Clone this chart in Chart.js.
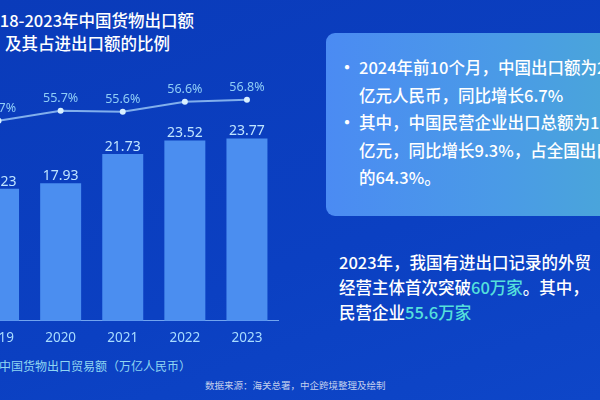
<!DOCTYPE html>
<html lang="zh-CN">
<head>
<meta charset="utf-8">
<script src="https://cdn.jsdelivr.net/npm/chart.js@4.4.1/dist/chart.umd.min.js"></script>
<style>
  html, body { margin: 0; padding: 0; }
  body {
    width: 600px; height: 400px; overflow: hidden; position: relative;
    background: linear-gradient(160deg, #0a3bba 0%, #0b40c2 60%, #0e46c8 100%);
    font-family: 'Noto Sans CJK SC', 'Noto Sans', sans-serif;
    color: #fff;
  }
  .title {
    position: absolute; left: -20px; top: 9px; width: 215px;
    text-align: center; font-size: 16.5px; font-weight: 500; line-height: 23px;
    white-space: nowrap;
  }
  #chartWrap { position: absolute; left: -40px; top: 0; width: 330px; height: 355px; }
  .axis-name {
    position: absolute; left: -1px; top: 357px; font-size: 12px; color: #8fd6f2; white-space: nowrap;
  }
  .source {
    position: absolute; left: 205px; top: 378px; font-size: 9.5px; color: #c3d0ee; white-space: nowrap;
  }
  .box {
    position: absolute; left: 326px; top: 33px; width: 300px; height: 183px;
    border-radius: 9px;
    background: linear-gradient(90deg, #4b8bf3 0%, #4a9be6 60%, #4aa7d8 100%);
  }
  .box .ln {
    position: absolute; left: 33px; font-size: 16.5px; font-weight: 500; white-space: nowrap; line-height: 20px;
  }
  .box .dot { position: absolute; left: 11px; font-size: 20px; line-height: 20px; }
  .note {
    position: absolute; left: 339px; top: 250px; font-size: 16.5px; font-weight: 500; line-height: 25px; white-space: nowrap;
  }
  .note em { font-style: normal; color: #55e0dc; }
</style>
</head>
<body>
<div class="title">2018-2023年中国货物出口额<br>及其占进出口额的比例</div>

<div id="chartWrap"><canvas id="exportChart"></canvas></div>

<div class="axis-name">中国货物出口贸易额（万亿人民币）</div>
<div class="source">数据来源：海关总署，中企跨境整理及绘制</div>

<div class="box">
  <span class="dot" style="top:24px">•</span><span class="ln" style="top:24px">2024年前10个月，中国出口额为21.03万</span>
  <span class="ln" style="top:52px">亿元人民币，同比增长6.7%</span>
  <span class="dot" style="top:79px">•</span><span class="ln" style="top:79px">其中，中国民营企业出口总额为13.52万</span>
  <span class="ln" style="top:107px">亿元，同比增长9.3%，占全国出口总额</span>
  <span class="ln" style="top:134px">的64.3%。</span>
</div>

<div class="note">
  2023年，我国有进出口记录的外贸<br>
  经营主体首次突破<em>60万家</em>。其中，<br>
  民营企业<em>55.6万家</em>
</div>

<script>
// ============ データ ============
const years = ['2019', '2020', '2021', '2022', '2023'];
const exportValues = [17.23, 17.93, 21.73, 23.52, 23.77];   // 万亿人民币
const exportShare = [54.7, 55.7, 55.6, 56.6, 56.8];          // %

// 値ラベル（棒の上・折れ線の上）
const valueLabels = {
    id: 'valueLabels',
    afterDatasetsDraw(chart) {
        const ctx = chart.ctx;
        ctx.save();
        ctx.textAlign = 'center';
        ctx.textBaseline = 'alphabetic';

        const bars = chart.getDatasetMeta(1).data;
        ctx.font = "14px 'Noto Sans', sans-serif";
        ctx.fillStyle = '#bfe4ff';
        bars.forEach((b, i) => {
            ctx.fillText(exportValues[i].toFixed(2), b.x, b.y - 3);
        });

        const pts = chart.getDatasetMeta(0).data;
        ctx.font = "12.5px 'Noto Sans', sans-serif";
        ctx.fillStyle = '#8fcdf6';
        pts.forEach((p, i) => {
            ctx.fillText(exportShare[i].toFixed(1) + '%', p.x, p.y - 9);
        });
        ctx.restore();
    }
};

function renderExportChart() {
    const canvas = document.getElementById('exportChart');
    if (!canvas) return;

    new Chart(canvas, {
        data: {
            labels: years,
            datasets: [
                {
                    type: 'line',
                    data: exportShare,
                    yAxisID: 'y2',
                    borderColor: 'rgba(150,195,245,.85)',
                    borderWidth: 2,
                    pointRadius: 3,
                    pointBackgroundColor: '#d8f0ff',
                    pointBorderWidth: 0,
                    tension: 0,
                    order: 0,
                },
                {
                    type: 'bar',
                    data: exportValues,
                    yAxisID: 'y',
                    backgroundColor: '#4b8ef0',
                    categoryPercentage: 1,
                    barPercentage: 0.66,
                    order: 1,
                }
            ]
        },
        options: {
            responsive: true,
            maintainAspectRatio: false,
            animation: false,
            layout: { padding: { left: 7.5, right: 12, top: 60, bottom: 0 } },
            plugins: { legend: { display: false }, tooltip: { enabled: false } },
            scales: {
                x: {
                    grid: { display: false, drawTicks: false },
                    border: { display: true, color: 'rgba(140,190,250,.8)', width: 1 },
                    ticks: { color: '#a8dcff', font: { family: "'Noto Sans', sans-serif", size: 13.5 }, padding: 9 },
                },
                y: { display: false, min: 0, max: 34 },
                y2: { display: false, min: 34.8, max: 60.75 },
            }
        },
        plugins: [valueLabels]
    });
}

renderExportChart();
</script>
</body>
</html>
